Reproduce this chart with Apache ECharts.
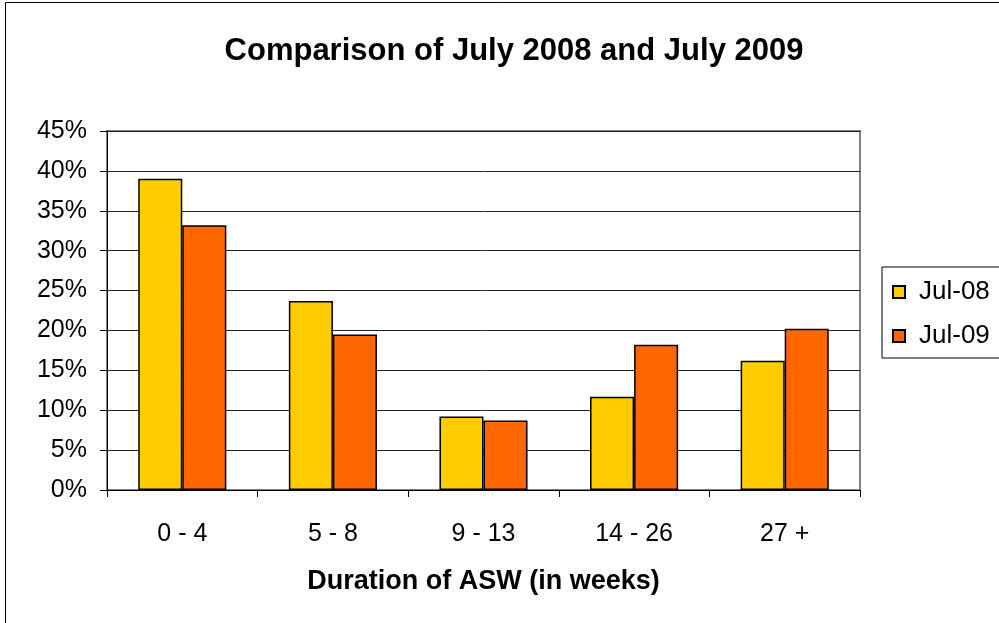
<!DOCTYPE html>
<html lang="en">
<head>
    <meta charset="utf-8">
    <script src="https://cdn.jsdelivr.net/npm/echarts@6/dist/echarts.min.js"></script>
    <style>
        html, body { margin: 0; padding: 0; background: #ffffff; }
        #chart { width: 999px; height: 623px; }
    </style>
</head>
<body>
<div id="chart"></div>
<script type="text/javascript">
    // data
    var categories = ['0 - 4', '5 - 8', '9 - 13', '14 - 26', '27 +'];
    var jul08 = [39.0, 23.7, 9.2, 11.7, 16.2];
    var jul09 = [33.2, 19.5, 8.7, 18.2, 20.2];
    var seriesNames = ['Jul-08', 'Jul-09'];
    var yTicks = [0, 5, 10, 15, 20, 25, 30, 35, 40, 45];

    var font = '"Liberation Sans", Arial, sans-serif';
    var chart = echarts.init(document.getElementById('chart'));

    var option = {
        backgroundColor: '#ffffff',
        animation: false,
        title: {
            text: 'Comparison of July 2008 and July 2009',
            left: 509,
            textAlign: 'center',
            top: 31,
            textStyle: { fontFamily: font, fontSize: 31, fontWeight: 'bold', color: '#000' }
        },
        legend: {
            data: seriesNames,
            orient: 'vertical',
            left: 882,
            top: 267,
            width: 140,
            padding: [12, 40, 9, 10],
            itemGap: 18,
            itemWidth: 12,
            itemHeight: 12,
            borderColor: '#000',
            borderWidth: 1,
            icon: 'rect',
            textStyle: { fontFamily: font, fontSize: 26, color: '#000', padding: [0, 0, 0, 9] }
        },
        grid: {
            left: 107,
            right: 139,
            top: 131,
            bottom: 133,
            show: true,
            borderColor: '#808080',
            borderWidth: 2
        },
        xAxis: {
            type: 'category',
            data: categories,
            name: 'Duration of ASW (in weeks)',
            nameLocation: 'middle',
            nameGap: 78,
            nameTextStyle: { fontFamily: font, fontSize: 27, fontWeight: 'bold', color: '#000' },
            axisLine: { lineStyle: { color: '#000', width: 1 } },
            axisTick: { show: true, length: 7, lineStyle: { color: '#000' } },
            axisLabel: { fontFamily: font, fontSize: 25, color: '#000', margin: 32 }
        },
        yAxis: {
            type: 'value',
            min: yTicks[0],
            max: yTicks[yTicks.length - 1],
            interval: 5,
            axisLine: { show: true, lineStyle: { color: '#000', width: 1 } },
            axisTick: { show: true, length: 7, lineStyle: { color: '#000' } },
            axisLabel: {
                fontFamily: font, fontSize: 25, color: '#000', margin: 20,
                formatter: function (v) { return v + '%'; }
            },
            splitLine: { show: true, lineStyle: { color: '#222', width: 1 } }
        },
        series: [
            {
                name: seriesNames[0],
                type: 'bar',
                data: jul08,
                barGap: '0%',
                barCategoryGap: '41.5%',
                itemStyle: { color: '#ffcc00', borderColor: '#000', borderWidth: 1.5 }
            },
            {
                name: seriesNames[1],
                type: 'bar',
                data: jul09,
                itemStyle: { color: '#ff6600', borderColor: '#000', borderWidth: 1.5 }
            }
        ],
        graphic: [
            {
                type: 'rect',
                shape: { x: 5.5, y: 2.5, width: 1100, height: 700 },
                style: { fill: 'none', stroke: '#000', lineWidth: 1 },
                silent: true
            }
        ]
    };
    chart.setOption(option);
</script>
</body>
</html>
